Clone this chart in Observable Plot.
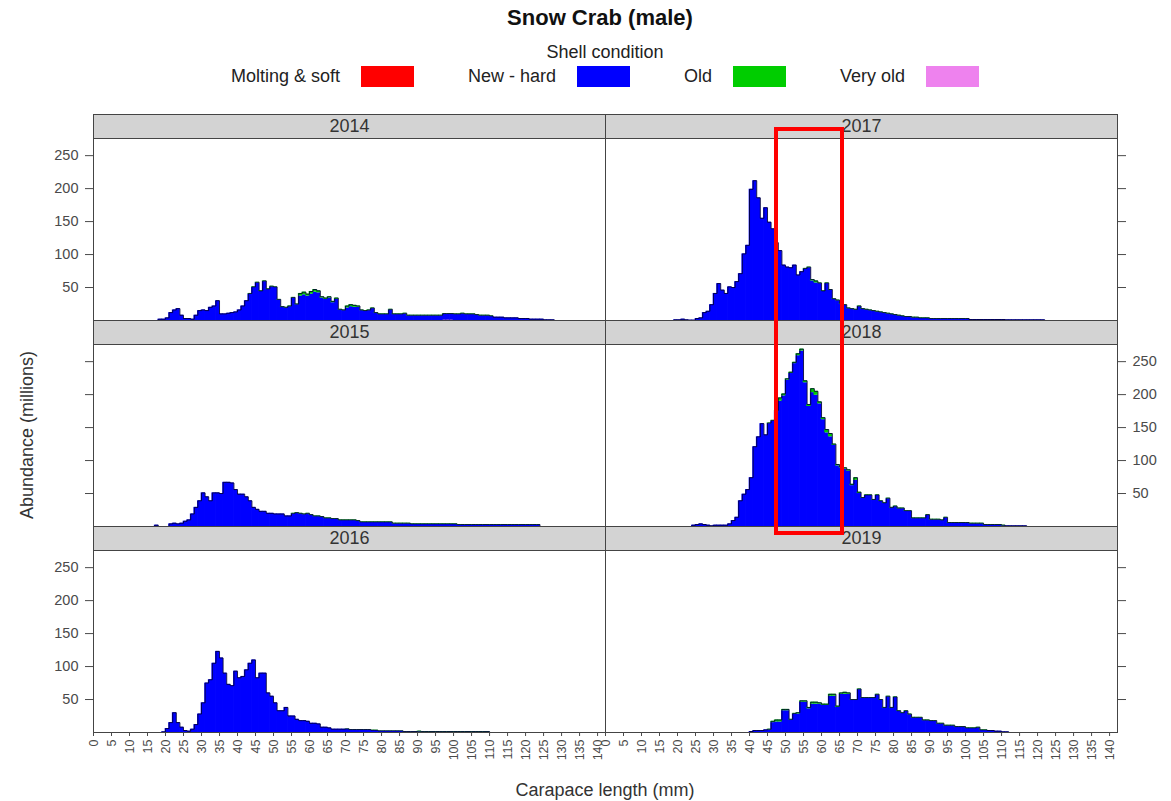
<!DOCTYPE html>
<html>
<head>
<meta charset="utf-8">
<script src="https://cdn.jsdelivr.net/npm/d3@7"></script>
<script src="https://cdn.jsdelivr.net/npm/@observablehq/plot@0.6"></script>
<style>
  body { margin: 0; background: #fff; font-family: "Liberation Sans", Arial, sans-serif; }
  #chart { position: relative; width: 1171px; height: 801px; overflow: hidden; background: #fff; }
  #chart > * { position: absolute; }
  .strip { background: #d3d3d3; border: 1px solid #444; box-sizing: border-box; text-align: center;
           font-size: 18px; color: #333; line-height: 22px; }
  .title { left: 0; width: 1200px; text-align: center; font-weight: bold; font-size: 22px; line-height: 28px; color: #111; }
  .legendTitle { left: 0; width: 1210px; text-align: center; font-size: 18px; line-height: 22px; color: #222; }
  .legendRow { left: 0; width: 1210px; display: flex; justify-content: center; align-items: center; gap: 54px;
               font-size: 18px; color: #222; }
  .legendItem { display: flex; align-items: center; gap: 21px; }
  .swatch { width: 53px; height: 21px; }
  .axisLabel { font-size: 18px; color: #333; white-space: nowrap; }
</style>
</head>
<body>
<div id="chart"></div>
<script>
// ---------- data (abundance in millions per 1-mm carapace length bin) ----------
const conditions = ["Molting & soft", "New - hard", "Old", "Very old"];
const conditionColors = ["#ff0000", "#0000ff", "#00cd00", "#ee82ee"];
const years = [2014, 2015, 2016, 2017, 2018, 2019];
const xTicks = [0,5,10,15,20,25,30,35,40,45,50,55,60,65,70,75,80,85,90,95,100,105,110,115,120,125,130,135,140];
const yTicks = [50, 100, 150, 200, 250];
const highlightMm = [47.5, 64.7];   // boxed length range (2017-2018)

// 2014
const newHard2014Start = 18;
const newHard2014 = [2,2,4,12,16,18,8,3,3,2, 8,15,16,15,20,22,30,10,10,11, 12,13,16,22,30,40,50,57,44,59,
  47,51,50,31,20,19,21,34,24,37, 39,37,40,43,42,34,32,34,27,32, 16,15,19,21,20,20,15,14,15,18,
  11,9,9,9,16,9,9,9,10,7, 7,7,7,7,7,7,7,7,7,9, 9,9,9,9,10,9,9,9,8,7, 7,7,6,5,5,5,4,4,4,4, 3,3,3,2,2,2,2,1,1,1];
const old2014Start = 43;
const old2014 = [1,1,1,1,1, 1,1,1,1,1,1,1,1,1,4, 4,3,4,4,3,2,2,2,2,2, 1,1,3,3,3,2,1,1,1,1,
  1,1,1,1,1,1,1,1,1,1,1,1,1,1,1,1,1,1,1,1,1,1,1,1,1,1,1,1,1,1,1,1,1];
const molting2014Start = 97;
const molting2014 = [0.5, 0.5, 0.5];

// 2015
const newHard2015Start = 17;
const newHard2015 = [2,0,0,0,4,5,4,5,8,10, 19,29,39,51,45,39,51,51,50,67, 67,66,56,49,49,45,39,29,26,23,
  23,20,20,19,19,19,16,16,19,20, 19,18,19,17,15,15,14,12,12,11, 11,9,9,9,9,9,8,6,6,6,
  6,6,6,6,6,6,4,4,4,4, 4,3,3,3,3,3,3,3,3,3, 3,3,3,3,2,2,2,2,2,2, 2,2,2,2,2,2,2,2,2,2, 2,2,2,2,2,2,2];
const old2015Start = 55;
const old2015 = [1,1,1,1,1,1,1,1,1,1, 1,1,1,1,1,1,1,1,1,1, 1,1,1,1,1,1,1,1,1,1, 1,1,1,1,1,1,1,1,1,1,
  1,1,1,1,1,1,1,1,1,1, 1,1,1,1,1,1,1,1,1,1, 1,1,1,1,1,1,1,1,1];

// 2016
const newHard2016Start = 19;
const newHard2016 = [1,6,15,30,15,8,3,2,5,12, 28,45,75,80,105,123,113,90,73,71, 93,83,85,95,105,110,83,90,90,60,
  55,45,33,33,38,25,25,20,18,18, 17,14,14,13,8,8,7,5,5,5, 5,5,4,4,4,4,4,4,3,3,
  2,2,2,2,2,2,2,1,1,1, 1,1,0.5,0.5,0.5,0.5,0.5,0.5,0.5,0.5, 0.5,0.5,0.5,0.5,0.5,0.5,0.5,0.5,0.5,0.5,0.5];
const old2016Start = 70;
const old2016 = [0.5,0.5,0.5,0.5,0.5,0.5,0.5,0.5,0.5,0.5, 0.5,0.5,0.5,0.5,0.5,0.5,0.5,0.5,0.5,0.5,
  1,1,1,1,1,1,1,1,1,1, 1,1,1,1,1,1,1,1,1,1];

// 2017
const newHard2017Start = 19;
const newHard2017 = [1,1,2,1,0.5,0.5,3,4,12,14, 24,41,56,46,41,51,50,59,71,101, 114,199,212,186,155,171,149,139,118,106,
  84,81,80,84,69,74,78,80,60,57, 56,44,56,46,32,30,25,23,18,17, 16,21,17,16,15,14,13,12,11,10,
  9,8,7,6,5,5,4,4,3,3, 3,2,2,2,2,2,2,2,2,2, 2,2,1.5,1.5,1.5,1.5,1.5,1.5,1.5,1.5, 1.5,1.5,1,1,1,1,1,1,1,1,1,1,1];
const old2017Start = 55;
const old2017 = [1,1,2,3,1,1, 1,1,1,1,1,1,1,1,1,1, 1,1,1,1,1,1,1,1,1,1, 1,1,1,1,1,1,1,1,1,1, 1,1,1,1,1,1,1,1,1,1];

// 2018
const newHard2018Start = 24;
const newHard2018 = [2,3,4,3,2,1,2,2,2,2, 4,9,14,39,49,56,74,121,136,156, 139,156,160,174,190,198,222,232,247,259,
  266,218,182,203,199,186,162,142,136,123, 92,89,87,84,62,70,50,43,47,47, 40,47,38,35,42,28,30,27,27,23,
  23,12,12,12,12,17,10,10,10,9, 13,5,5,5,5,5,5,4,4,4, 4,2,2,2,2,2,1,1,1,1, 1,1,1];
const old2018Start = 45;
const old2018 = [1,1,2,5,3,2,2,2,3,3, 3,3,6,6,3,3,5,5,2,2, 2,2,2,2,4,2,1,1,1,1,
  1,1,1,1,1,1,1,1,1,1, 1,1,1,1,1,1,1,1,1,1, 1,1,1,1,1,1,1,1,1,1, 1,1,1,1,1,1];

// 2019
const newHard2019Start = 40;
const newHard2019 = [1.5,3,3,3,4,4,15,16,16,33, 33,19,28,28,46,46,36,43,43,43, 41,41,55,55,38,58,58,58,49,49,
  65,52,52,52,52,57,49,37,54,37, 53,32,29,32,27,22,22,22,18,18, 17,17,13,13,10,10,10,8,8,8,
  6,6,6,7,3,3,3,3,2,2, 1,1];
const old2019Start = 45;
const old2019 = [1,2,3,3,2,2,1,1,2,2, 2,2,3,3,2,2,2,3,3,2, 2,3,2,1,1,1,1,1,1,1,
  1,1,1,1,1,1,1,1,1,1, 1,1,1,1,1,1,1,1,1,1, 1,1,1,1,1,1,1,1,1,1, 1];

// Very old: no visible abundance in any year
const veryOldAll = [];

// ---------- table ----------
function makeRows(year, cond, start, values) {
  return values.map((value, i) => ({year, cond, mm: start + i, value}));
}
const rows = [
  ...makeRows(2014, conditions[0], molting2014Start, molting2014),
  ...makeRows(2014, conditions[1], newHard2014Start, newHard2014),
  ...makeRows(2014, conditions[2], old2014Start, old2014),
  ...makeRows(2015, conditions[1], newHard2015Start, newHard2015),
  ...makeRows(2015, conditions[2], old2015Start, old2015),
  ...makeRows(2016, conditions[1], newHard2016Start, newHard2016),
  ...makeRows(2016, conditions[2], old2016Start, old2016),
  ...makeRows(2017, conditions[1], newHard2017Start, newHard2017),
  ...makeRows(2017, conditions[2], old2017Start, old2017),
  ...makeRows(2018, conditions[1], newHard2018Start, newHard2018),
  ...makeRows(2018, conditions[2], old2018Start, old2018),
  ...makeRows(2019, conditions[1], newHard2019Start, newHard2019),
  ...makeRows(2019, conditions[2], old2019Start, old2019),
  ...veryOldAll
];

// ---------- layout ----------
const L = {panelLeft: [93, 605], panelW: 512, stripTop: 114, stripH: 24, panelH: 182, rowStep: 206, bottomMargin: 40};
const chart = document.getElementById("chart");

function add(tag, cls, css, text) {
  const el = document.createElement(tag);
  if (cls) el.className = cls;
  Object.assign(el.style, css);
  if (text != null) el.textContent = text;
  chart.appendChild(el);
  return el;
}

// title + legend
add("div", "title", {top: "4px"}, "Snow Crab (male)");
add("div", "legendTitle", {top: "41px"}, "Shell condition");
const legendRow = add("div", "legendRow", {top: "66px", height: "21px"});
conditions.forEach((c, i) => {
  const item = document.createElement("div");
  item.className = "legendItem";
  const t = document.createElement("span"); t.textContent = c;
  const s = document.createElement("span"); s.className = "swatch"; s.style.background = conditionColors[i];
  item.append(t, s);
  legendRow.appendChild(item);
});

const panelOrder = [[2014, 0, 0], [2015, 0, 1], [2016, 0, 2], [2017, 1, 0], [2018, 1, 1], [2019, 1, 2]];
const plots = {};

for (const [year, col, row] of panelOrder) {
  const data = rows.filter(d => d.year === year);
  const byMm = d3.rollup(data, v => d3.sum(v, d => d.value), d => d.mm);
  const totals = d3.range(0, 142).map(mm => ({mm, total: byMm.get(mm) || 0}));
  const isBottom = row === 2;
  const labeled = col === 0 ? row !== 1 : row === 1;
  const marginLeft = col === 0 ? L.panelLeft[0] : 1;
  const marginRight = col === 0 ? 1 : 60;
  const plot = Plot.plot({
    width: marginLeft + L.panelW + marginRight,
    height: L.panelH + (isBottom ? L.bottomMargin : 0),
    marginLeft, marginRight,
    marginTop: 0,
    marginBottom: isBottom ? L.bottomMargin : 0,
    x: {domain: [0, 142.2], axis: null, label: null},
    y: {domain: [0, 276], axis: null, label: null},
    color: {domain: conditions, range: conditionColors},
    style: {fontFamily: "Liberation Sans, Arial, sans-serif", fontSize: "14.5px", color: "#4a4a4a",
            background: "transparent", overflow: "visible"},
    marks: [
      Plot.rectY(data, {x: "mm", interval: 1, y: "value", fill: "cond", inset: 0, insetLeft: -0.35, insetRight: -0.35}),
      Plot.lineY(totals, {x: "mm", y: "total", curve: "step-after", stroke: "#000033", strokeWidth: 1, strokeOpacity: 0.85}),
      Plot.frame({stroke: "#444"}),
      Plot.axisY({anchor: col === 0 ? "left" : "right", ticks: yTicks, tickSize: 8, tickPadding: 7,
                  fontSize: 14.5, label: null, tickFormat: labeled ? (d => String(d)) : (() => "")}),
      isBottom ? Plot.axisX({ticks: xTicks, tickRotate: -90, tickSize: 4, tickPadding: 3, fontSize: 12.5, label: null}) : null
    ]
  });
  const svgLeft = col === 0 ? 0 : L.panelLeft[1] - 1;
  const svgTop = L.stripTop + L.stripH + row * L.rowStep;
  plot.style.left = svgLeft + "px";
  plot.style.top = svgTop + "px";
  plot.style.position = "absolute";
  chart.appendChild(plot);
  plots[year] = {plot, svgLeft, svgTop};

  add("div", "strip", {left: L.panelLeft[col] + "px", top: (L.stripTop + row * L.rowStep) + "px",
                       width: (L.panelW + 1) + "px", height: (L.stripH + 1) + "px"}, String(year));
}

// axis titles
add("div", "axisLabel", {left: "27px", top: "435px", transform: "translate(-50%, -50%) rotate(-90deg)"}, "Abundance (millions)");
add("div", "axisLabel", {left: "0px", width: "1210px", textAlign: "center", top: "778px", lineHeight: "24px"}, "Carapace length (mm)");

// red highlight box spanning 2017 and 2018 panels, positioned with the x scale
const ref = plots[2017];
const sx = ref.plot.scale("x");
const boxLeft = ref.svgLeft + sx.apply(highlightMm[0]);
const boxRight = ref.svgLeft + sx.apply(highlightMm[1]);
const boxTop = L.stripTop + 15;
const boxBottom = L.stripTop + L.stripH + L.rowStep + L.panelH + 3;
add("div", null, {left: (boxLeft - 2) + "px", top: (boxTop - 2) + "px", width: (boxRight - boxLeft) + "px",
                  height: (boxBottom - boxTop) + "px", border: "4px solid #ff0000", boxSizing: "content-box",
                  pointerEvents: "none"});
</script>
</body>
</html>
